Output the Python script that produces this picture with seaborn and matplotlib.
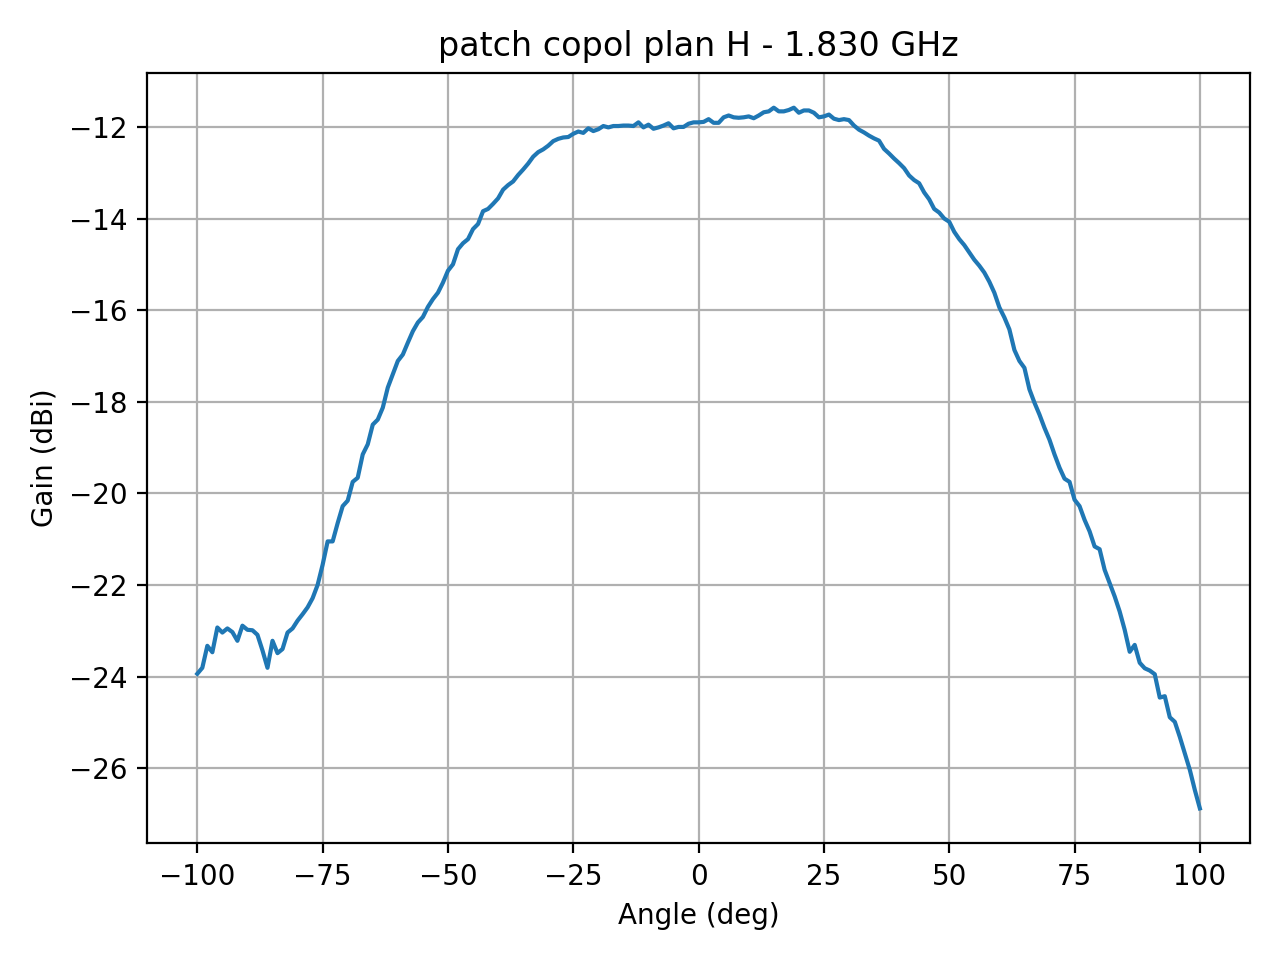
import matplotlib
matplotlib.use("Agg")
import matplotlib.pyplot as plt
import seaborn as sns
import pandas as pd

# Mesure du diagramme de rayonnement (copolaire, plan H)
angles = list(range(-100, 101))

gain_dbi = [
    -23.94, -23.81, -23.33, -23.47, -22.93, -23.04, -22.95, -23.03, -23.22, -22.89,  # -100..-91
    -22.98, -22.99, -23.09, -23.43, -23.81, -23.22, -23.49, -23.40, -23.04, -22.95,  # -90..-81
    -22.78, -22.64, -22.49, -22.29, -22.00, -21.56, -21.05, -21.05, -20.65, -20.28,  # -80..-71
    -20.16, -19.75, -19.66, -19.15, -18.93, -18.50, -18.39, -18.13, -17.69, -17.40,  # -70..-61
    -17.11, -16.97, -16.71, -16.46, -16.27, -16.15, -15.93, -15.76, -15.62, -15.40,  # -60..-51
    -15.14, -15.00, -14.67, -14.54, -14.45, -14.23, -14.12, -13.84, -13.79, -13.68,  # -50..-41
    -13.56, -13.37, -13.27, -13.19, -13.05, -12.93, -12.80, -12.65, -12.55, -12.49,  # -40..-31
    -12.41, -12.31, -12.26, -12.23, -12.22, -12.15, -12.10, -12.13, -12.03, -12.09,  # -30..-21
    -12.05, -11.98, -12.01, -11.98, -11.98, -11.97, -11.97, -11.98, -11.90, -12.01,  # -20..-11
    -11.95, -12.04, -12.01, -11.97, -11.92, -12.03, -12.00, -12.00, -11.93, -11.90,  # -10..-1
    -11.90,                                                                          # 0
    -11.89, -11.83, -11.91, -11.91, -11.79, -11.75, -11.79, -11.80, -11.79, -11.77,  # 1..10
    -11.81, -11.75, -11.68, -11.66, -11.58, -11.66, -11.66, -11.63, -11.58, -11.69,  # 11..20
    -11.64, -11.64, -11.69, -11.79, -11.77, -11.73, -11.82, -11.85, -11.83, -11.85,  # 21..30
    -11.97, -12.06, -12.12, -12.19, -12.25, -12.30, -12.48, -12.58, -12.69, -12.79,  # 31..40
    -12.90, -13.06, -13.16, -13.23, -13.43, -13.58, -13.79, -13.87, -14.00, -14.07,  # 41..50
    -14.29, -14.45, -14.58, -14.74, -14.90, -15.03, -15.18, -15.38, -15.62, -15.94,  # 51..60
    -16.16, -16.42, -16.87, -17.11, -17.26, -17.73, -18.02, -18.28, -18.57, -18.83,  # 61..70
    -19.15, -19.44, -19.68, -19.75, -20.14, -20.28, -20.58, -20.83, -21.16, -21.22,  # 71..80
    -21.67, -21.96, -22.25, -22.58, -22.98, -23.46, -23.31, -23.70, -23.82, -23.87,  # 81..90
    -23.95, -24.46, -24.43, -24.89, -24.99, -25.32, -25.68, -26.04, -26.48, -26.88,  # 91..100
]

df = pd.DataFrame({"Angle": angles, "Gain": gain_dbi})

fig, ax = plt.subplots(figsize=(6.4, 4.8), dpi=200)
sns.lineplot(data=df, x="Angle", y="Gain", ax=ax, color="#1f77b4", linewidth=1.5)
ax.set_title("patch copol plan H - 1.830 GHz")
ax.set_xlabel("Angle (deg)")
ax.set_ylabel("Gain (dBi)")
ax.grid(True)
plt.tight_layout()
plt.savefig("out.png", dpi=200)
